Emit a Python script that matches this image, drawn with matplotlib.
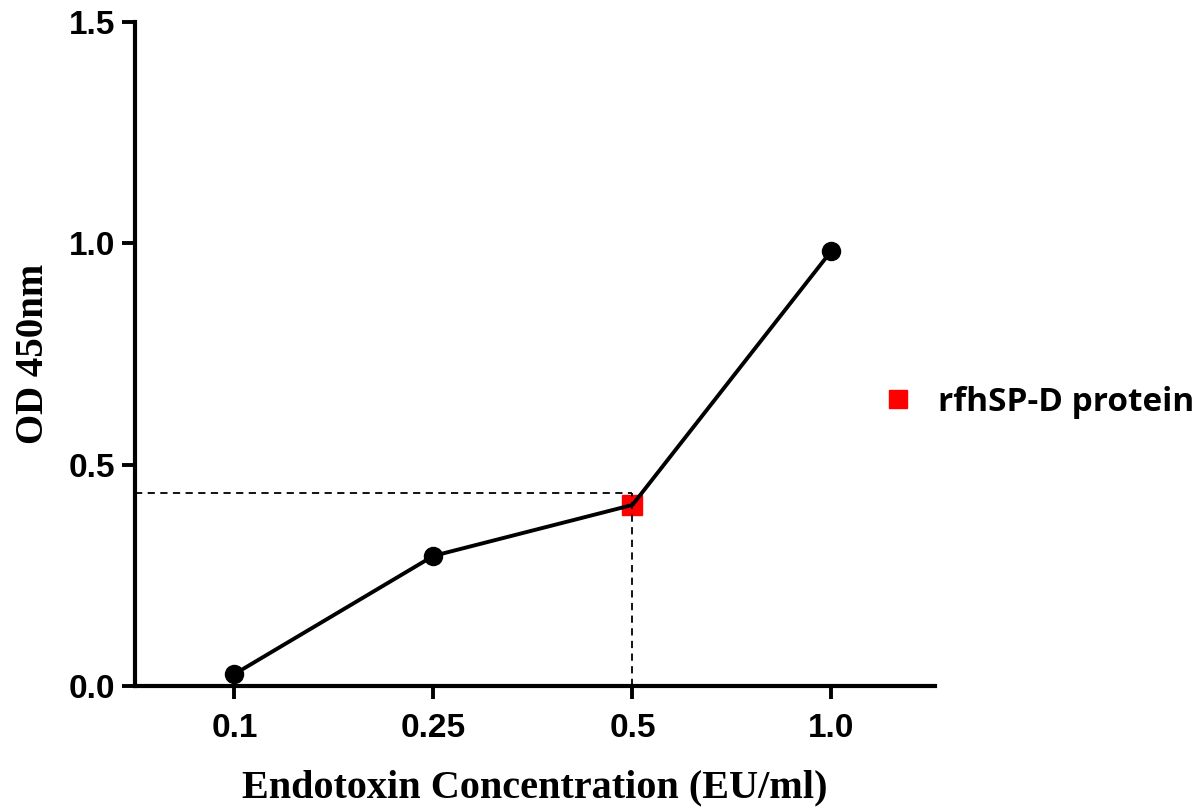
import matplotlib.pyplot as plt
from matplotlib.lines import Line2D

conc_labels = ['0.1', '0.25', '0.5', '1.0']
od_values = [0.027, 0.294, 0.409, 0.983]
sample_od = 0.436
sample_index = 2
y_ticks = [0.0, 0.5, 1.0, 1.5]

fig = plt.figure(figsize=(12.01, 8.11), dpi=100)
ax = fig.add_axes([0.1124, 0.1541, 0.666, 0.8188])

x = list(range(len(conc_labels)))
circle_idx = [i for i in x if i != sample_index]
ax.plot(x, od_values, color='black', lw=2.8, marker='o', ms=13,
        markevery=circle_idx, zorder=3)
ax.plot([x[sample_index]], [od_values[sample_index]], marker='s', ms=14,
        color='red', ls='none', zorder=2.5)

# dashed reference lines for the sample
ax.plot([-0.5, x[sample_index]], [sample_od, sample_od], color='black', lw=1.3,
        ls=(0, (4, 3)), zorder=4)
ax.plot([x[sample_index], x[sample_index]], [0, sample_od], color='black', lw=1.3,
        ls=(0, (4, 3)), zorder=4)

ax.set_xlim(-0.5, 3.52)
ax.set_ylim(0, 1.5)
ax.set_xticks(x)
ax.set_xticklabels(conc_labels)
ax.set_yticks(y_ticks)
ax.set_yticklabels([f'{v:.1f}' for v in y_ticks])

for lab in ax.get_xticklabels() + ax.get_yticklabels():
    lab.set_family('Liberation Sans')
    lab.set_fontweight('bold')
    lab.set_fontsize(24)

ax.tick_params(width=2.8, length=9.5)
ax.tick_params(axis='y', pad=5)
ax.tick_params(axis='x', pad=10)
ax.spines['top'].set_visible(False)
ax.spines['right'].set_visible(False)
for s in ['left', 'bottom']:
    ax.spines[s].set_linewidth(3)

ax.set_xlabel('Endotoxin Concentration (EU/ml)', family='Liberation Serif',
              fontweight='bold', fontsize=29, labelpad=18)
ax.set_ylabel('OD 450nm', family='Liberation Serif', fontweight='bold',
              fontsize=28, labelpad=12)

handle = Line2D([], [], marker='s', color='red', ls='none', ms=13)
fig.legend([handle], ['rfhSP-D protein'], loc='center left',
           bbox_to_anchor=(0.695, 0.504), frameon=False, handletextpad=0.2,
           prop={'family': 'Open Sans', 'weight': 'bold', 'size': 24})

fig.savefig('out.png', dpi=100)
